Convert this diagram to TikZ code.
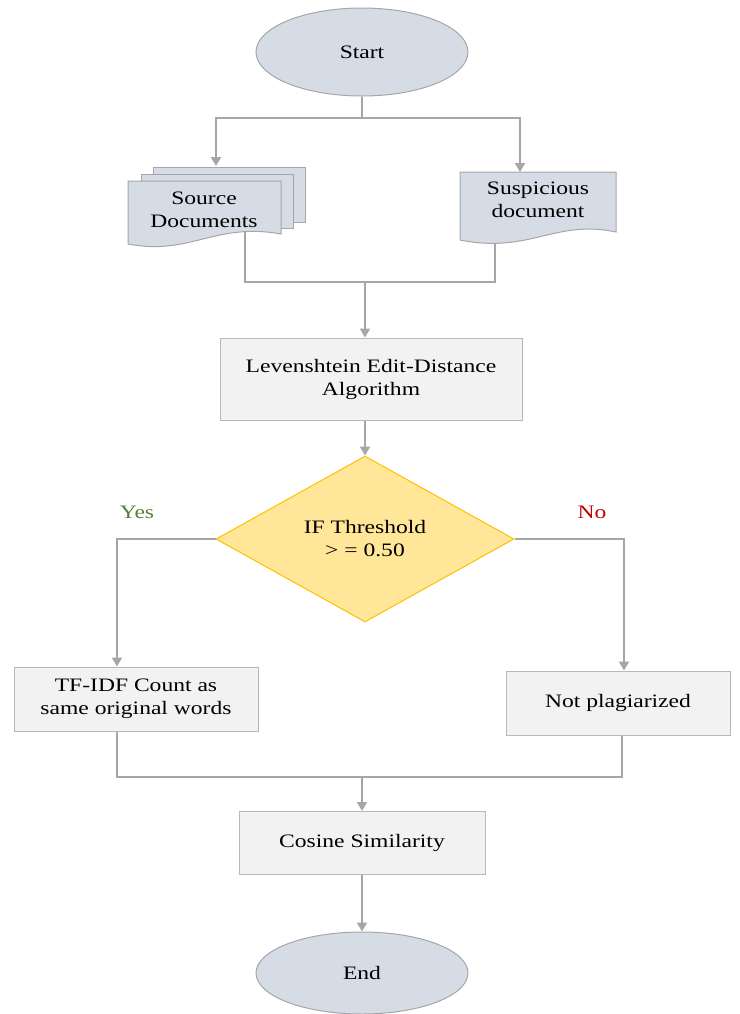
\documentclass[tikz,border=0pt]{standalone}
\usepackage{fontspec}
\setmainfont{Liberation Serif}[FakeStretch=1.24]
\usetikzlibrary{arrows.meta,shapes.geometric}

\definecolor{termfill}{HTML}{D6DCE5}
\definecolor{boxfill}{HTML}{F2F2F2}
\definecolor{edgegray}{HTML}{A6A6A6}
\definecolor{decfill}{HTML}{FFE699}
\definecolor{decline}{HTML}{FFC000}
\definecolor{yesgreen}{HTML}{548235}
\definecolor{nored}{HTML}{C00000}

\tikzset{
  term/.style={ellipse,fill=termfill,draw=edgegray,line width=0.5pt,minimum width=106pt,minimum height=44pt},
  box/.style={rectangle,fill=boxfill,draw=edgegray!80,line width=0.5pt,align=center,inner sep=2pt},
  decision/.style={diamond,fill=decfill,draw=decline,line width=0.5pt,minimum width=149pt,minimum height=83pt,align=center,inner sep=0pt},
  docpage/.style={fill=termfill,draw=edgegray,line width=0.5pt},
  line/.style={draw=edgegray,line width=1pt},
  arrow/.style={line,-{Triangle[width=5pt,length=4.5pt]}}
}

\begin{document}
\begin{tikzpicture}[x=0.5pt,y=-0.5pt,font=\fontsize{9.5}{11.5}\selectfont]
                \useasboundingbox (0,0) rectangle (740,1014);

                % pages of the two inputs
                \path[docpage] (153,167) rectangle (305,222);
                \path[docpage] (141,174) rectangle (293,228);
                \path[docpage] (128,181) -- (281,181) -- (281,234) .. controls (215,222) and (190,256) .. (128,244) -- cycle;
                \path[docpage] (460,172) -- (616,172) -- (616,232) .. controls (555,219) and (530,254) .. (460,240) -- cycle;

                \node[term] (start) at (362,52) {Start};
                \node[align=center] (src) at (204,210) {Source\\Documents};
                \node[align=center] (sus) at (538,200) {Suspicious\\document};
                \node[box,minimum width=151pt,minimum height=41pt] (lev) at (371,379) {Levenshtein Edit-Distance\\Algorithm};
                \node[decision] (dec) at (365,539) {IF Threshold\\> = 0.50};
                \node[box,minimum width=122pt,minimum height=32pt] (tf) at (136,699) {TF-IDF Count as\\same original words};
                \node[box,minimum width=112pt,minimum height=32pt] (np) at (618,703) {Not plagiarized};
                \node[box,minimum width=123pt,minimum height=31.5pt] (cos) at (362,843) {Cosine Similarity};
                \node[term,minimum height=41pt] (end) at (362,973) {End};

                \node[text=yesgreen] (yes) at (137,512) {Yes};
                \node[text=nored] (no) at (592,512) {No};

                \coordinate (split1) at (362,118);
                \coordinate (srctop) at (216,166);
                \coordinate (sustop) at (520,172);
                \coordinate (srcout) at (245,232);
                \coordinate (susout) at (495,243);
                \coordinate (join1) at (365,282);
                \coordinate (tftop) at ([xshift=-9.5pt]tf.north);
                \coordinate (nptop) at ([xshift=3pt]np.north);
                \coordinate (tfout) at ([xshift=-9.5pt]tf.south);
                \coordinate (npout) at ([xshift=2pt]np.south);
                \coordinate (join2) at (362,777);

                \draw[line] (start) -- (split1);
                \draw[arrow] (split1) -| (srctop);
                \draw[arrow] (split1) -| (sustop);
                \draw[line] (srcout) |- (join1) -| (susout);
                \draw[arrow] (join1) -- (join1 |- lev.north);
                \draw[arrow] (lev.south -| dec.north) -- (dec.north);
                \draw[arrow] (dec.west) -| (tftop);
                \draw[arrow] (dec.east) -| (nptop);
                \draw[line] (tfout) |- (join2) -| (npout);
                \draw[arrow] (join2) -- (cos.north);
                \draw[arrow] (cos.south) -- (end.north);
\end{tikzpicture}
\end{document}
